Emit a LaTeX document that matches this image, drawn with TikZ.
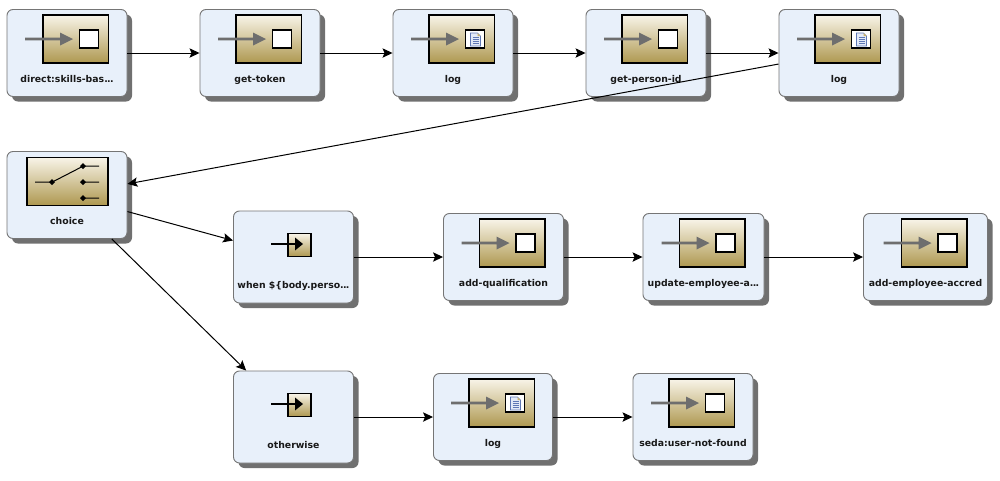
\documentclass[tikz,border=0pt]{standalone}
\usepackage{fontspec}
\setmainfont{DejaVu Sans}
\usetikzlibrary{arrows.meta,shadows}

\definecolor{boxfill}{HTML}{E8F0FA}
\definecolor{boxline}{HTML}{757575}
\definecolor{boxshadow}{HTML}{707070}
\definecolor{icontop}{HTML}{F8F4E8}
\definecolor{iconbottom}{HTML}{AE9850}
\definecolor{arrowgray}{HTML}{6E6E6E}
\definecolor{pagefill}{HTML}{E3EAF7}
\definecolor{pageline}{HTML}{5F78B5}
\definecolor{pagefold}{HTML}{C8B06A}

\tikzset{
  stepbox/.style={draw=boxline,fill=boxfill,line width=0.7pt,rounded corners=4.5pt,inner sep=0pt,
    drop shadow={shadow xshift=3.75pt,shadow yshift=-3.75pt,fill=boxshadow,opacity=1}},
  steplabel/.style={inner sep=0pt,font=\bfseries\fontsize{7}{8}\selectfont,text=black!90},
  iconframe/.style={draw=black,line width=1.3pt,top color=icontop,bottom color=iconbottom},
  link/.style={draw=black,line width=0.75pt,-{Stealth[length=7.5pt,width=7pt,inset=1.5pt]}}
}

% icons, drawn from the top centre of their box
\newcommand{\iconframe}{%
  \draw[iconframe] (-24,5.5) rectangle (41.5,53.5);
  \fill[arrowgray] (-42,28.2) -- (-7,28.2) -- (-7,23) -- (6,29.5) -- (-7,36) -- (-7,30.8) -- (-42,30.8) -- cycle;
  \draw[black,line width=1.3pt,fill=white] (12.5,20.5) rectangle (31.5,38.5);
}
\newcommand{\iconplain}{\iconframe}
\newcommand{\iconlog}{%
  \iconframe
  \draw[pageline,line width=0.4pt,fill=pagefill] (17.5,23.5) -- (24.5,23.5) -- (27.5,26.5) -- (27.5,36.5) -- (17.5,36.5) -- cycle;
  \fill[pagefold] (24.5,23.5) -- (27.5,26.5) -- (24.5,26.5) -- cycle;
  \foreach \ly in {27.5,29.5,31.5,33.5} \draw[pageline,line width=0.5pt] (19.5,\ly) -- (25.5,\ly);
}
\newcommand{\iconchoice}{%
  \draw[iconframe] (-40,6) rectangle (41,54);
  \draw[black,line width=0.75pt] (-32,30.7) -- (-15,30.7) -- (16,14.7) -- (32,14.7) (16,30.7) -- (32,30.7) (16,46.7) -- (32,46.7);
  \foreach \dx/\dy in {-15/30.7,16/14.7,16/30.7,16/46.7}
    \fill[black] (\dx-3,\dy) -- (\dx,\dy-3) -- (\dx+3,\dy) -- (\dx,\dy+3) -- cycle;
}
\newcommand{\iconwhen}{%
  \draw[iconframe] (-5.8,22.5) rectangle (17.2,45.5);
  \draw[black,line width=1.4pt] (-22.5,33) -- (2,33);
  \fill[black] (1.5,26.5) -- (9.5,33) -- (1.5,39.5) -- cycle;
}
\newcommand{\cutoff}{.\kern-0.5pt.\kern-0.5pt.}

\begin{document}
\begin{tikzpicture}[x=0.75pt,y=0.75pt,yscale=-1,xscale=1]
\useasboundingbox (0,0) rectangle (1000,480);

% steps: name / centre x / top / width / height / icon / label offset / text
\foreach \id/\cx/\top/\w/\h/\kind/\dy/\txt in {
  skills/67/9.5/120/87/plain/70/{direct:skills-bas\cutoff},
  token/260/9.5/120/87/plain/70/{get-token},
  logfirst/453/9.5/120/87/log/70/{log},
  person/646/9.5/120/87/plain/70/{get-person-id},
  logsecond/839/9.5/120/87/log/70/{log},
  choice/67/151.5/120/87/choice/70/{choice},
  when/293.5/211/120/92/when/74.5/{when \$\{body.perso\cutoff},
  qualif/503.5/213.5/120/87/plain/70/{add-qualification},
  update/703.5/213.5/121/87/plain/70/{update-employee-a\cutoff},
  accred/925.5/213.5/124/87/plain/70/{add-employee-accred},
  otherwise/293.5/371/120/92/when/74.5/{otherwise},
  lognotfound/493/373.5/119/87/log/70/{log},
  notfound/693/373.5/120/87/plain/70/{seda:user-not-found}}
{
  \node[stepbox,minimum width=\w*0.75pt,minimum height=\h*0.75pt] (\id) at (\cx,{\top+\h/2}) {};
  \begin{scope}[shift={(\cx,\top)}]
    \csname icon\kind\endcsname
  \end{scope}
  \node[steplabel] (\id label) at (\cx,{\top+\dy}) {\txt};
}

% links, centre to centre
\foreach \from/\to in {skills/token,token/logfirst,logfirst/person,person/logsecond,logsecond/choice,
  choice/when,choice/otherwise,when/qualif,qualif/update,update/accred,otherwise/lognotfound,lognotfound/notfound}
  \draw[link] (\from) -- (\to);

\end{tikzpicture}
\end{document}
